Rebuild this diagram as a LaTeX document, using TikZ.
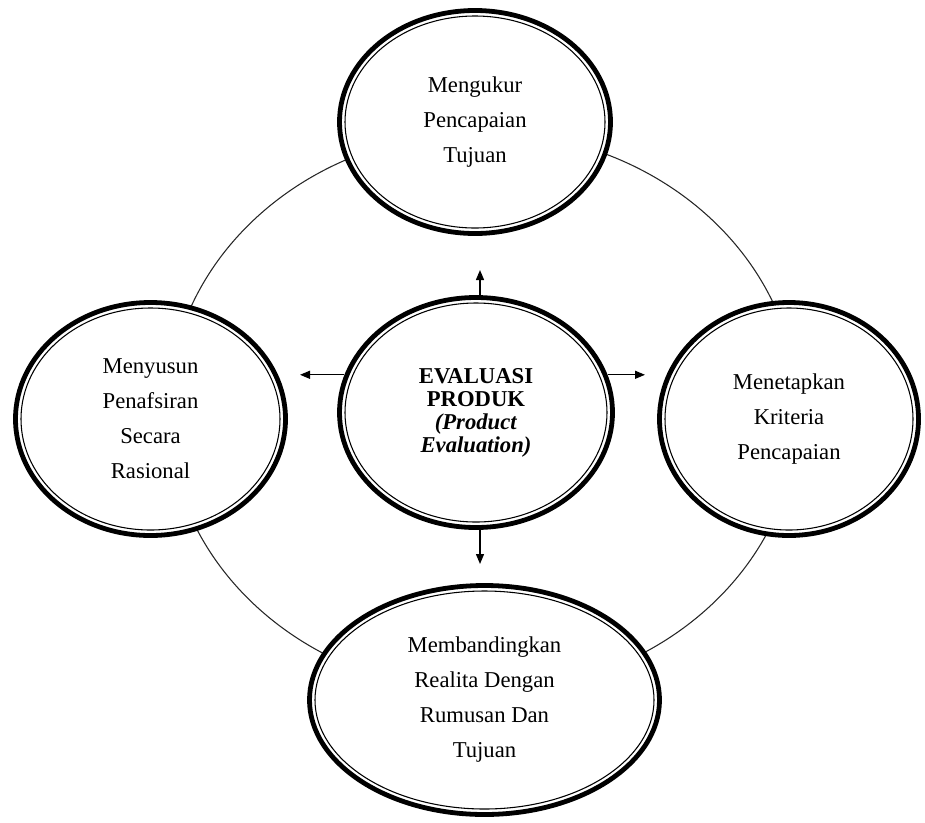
\documentclass[tikz,border=0pt]{standalone}
\usepackage{fontspec}
\setmainfont{Liberation Serif}
\usetikzlibrary{shapes.geometric,arrows.meta}
\newcommand\dblbub[6][]{%
  \node[bub,minimum width={(2*#4-5)*0.75pt},minimum height={(2*#5-5)*0.75pt},#1] (#2) at (#3) {#6};
  \draw[ring] (#2.center) ellipse [x radius={(#4-8)*0.75pt}, y radius={(#5-8)*0.75pt}];
}
\begin{document}
\begin{tikzpicture}[x=0.75pt,y=-0.75pt,
  bub/.style={ellipse,draw,fill=white,line width=3.6pt,inner sep=0pt,align=center,
    font=\fontsize{17}{26.25}\selectfont},
  ring/.style={line width=0.8pt},
  arr/.style={line width=1pt,-{Triangle[length=7.5pt,width=6pt]}},
  conn/.style={line width=0.8pt,draw=black!85}]
\useasboundingbox (0,0) rectangle (925,822);
\draw[conn] (483,412) ellipse [x radius=315, y radius=280];
\dblbub{ntop}{475,122}{138}{114}{Mengukur\\Pencapaian\\Tujuan}
\dblbub{nleft}{150.5,419}{137.5}{119}{Menyusun\\Penafsiran\\Secara\\Rasional}
\dblbub{nright}{789,419}{132}{119}{Menetapkan\\Kriteria\\Pencapaian}
\dblbub{nbot}{484.5,700}{177.5}{117}{Membandingkan\\Realita Dengan\\Rumusan Dan\\Tujuan}
\dblbub[font=\fontsize{17}{17.25}\selectfont\bfseries]{nmid}{476,412.5}{139}{117.5}{EVALUASI\\PRODUK\\\textit{(Product}\\\textit{Evaluation)}}
\coordinate (uT) at (480,270);
\coordinate (dT) at (480,564);
\coordinate (lT) at (300,375);
\coordinate (rT) at (645,375);
\draw[arr] (nmid.north -| uT) -- (uT);
\draw[arr] (nmid.south -| dT) -- (dT);
\draw[arr] (nmid.164) -- (nmid.164 -| lT);
\draw[arr] (nmid.16) -- (nmid.16 -| rT);
\end{tikzpicture}
\end{document}
